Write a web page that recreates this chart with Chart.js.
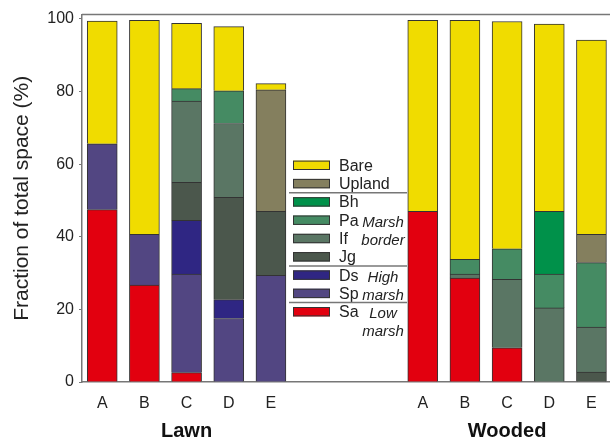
<!DOCTYPE html>
<html>
<head>
<meta charset="utf-8">
<script src="https://cdn.jsdelivr.net/npm/chart.js@4.4.1/dist/chart.umd.min.js"></script>
<style>
html,body{margin:0;padding:0;background:#fff;}
</style>
</head>
<body>
<canvas id="myChart" width="610" height="443"></canvas>
<script>
var groups = ['Lawn', 'Wooded'];
var sites = ['A', 'B', 'C', 'D', 'E'];
var yTicks = [0, 20, 40, 60, 80, 100];

// % of total space, Lawn A-E then Wooded A-E
var Sa     = [47.5, 26.7, 2.6, null, null, 47, 28.6, 9.4, null, null];
var Sp     = [18.1, 14, 27.1, 17.5, 29.4, null, null, null, null, null];
var Ds     = [null, null, 14.8, 5.2, null, null, null, null, null, null];
var Jg     = [null, null, 10.5, 28.2, 17.6, null, null, null, null, 2.7];
var If     = [null, null, 22.4, 20.3, null, null, 1.1, 18.9, 20.4, 12.4];
var Pa     = [null, null, 3.4, 9, null, null, 4.1, 8.4, 9.3, 17.8];
var Bh     = [null, null, null, null, null, null, null, null, 17.3, null];
var Upland = [null, null, null, null, 33.5, null, null, null, null, 7.8];
var Bare   = [33.8, 58.9, 18, 17.7, 1.7, 52.6, 65.8, 62.6, 51.6, 53.5];

var legendNotes = [
	{row: 3, text: ['Marsh', 'border']},
	{row: 6, text: ['High', 'marsh']},
	{row: 8, text: ['Low', 'marsh']}
];

var groupGap = 7.6;
function pos(g, i){ return g * groupGap + i; }

var series = [
	{label: 'Sa', data: Sa, color: '#e2000f'},
	{label: 'Sp', data: Sp, color: '#524682'},
	{label: 'Ds', data: Ds, color: '#2f2683'},
	{label: 'Jg', data: Jg, color: '#4b574c'},
	{label: 'If', data: If, color: '#5a7664'},
	{label: 'Pa', data: Pa, color: '#458b63'},
	{label: 'Bh', data: Bh, color: '#00914a'},
	{label: 'Upland', data: Upland, color: '#847f5e'},
	{label: 'Bare', data: Bare, color: '#f0dc00'}
];

var tickPos = [], tickLabels = [];
groups.forEach(function(g, gi){
	sites.forEach(function(s, si){
		tickPos.push(pos(gi, si));
		tickLabels.push(s);
	});
});

var datasets = series.map(function(s){
	return {
		label: s.label,
		data: s.data.map(function(v, k){ return {x: tickPos[k], y: v}; }),
		backgroundColor: s.color,
		borderColor: '#333',
		borderWidth: 1,
		barThickness: 30
	};
});

var FONT = '"Liberation Sans", Arial, sans-serif';

var extras = {
	id: 'extras',
	afterDraw: function(chart){
		var ctx = chart.ctx, a = chart.chartArea, xs = chart.scales.x;
		ctx.save();
		// top frame line
		ctx.strokeStyle = '#777';
		ctx.lineWidth = 1.5;
		ctx.beginPath();
		ctx.moveTo(a.left, a.top);
		ctx.lineTo(a.right, a.top);
		ctx.stroke();

		// group names
		ctx.fillStyle = '#111';
		ctx.font = 'bold 20px ' + FONT;
		ctx.textAlign = 'center';
		ctx.textBaseline = 'middle';
		groups.forEach(function(g, gi){
			ctx.fillText(g, xs.getPixelForValue(pos(gi, 2)), 431);
		});

		// legend, top row = top of stack
		var rows = chart.data.datasets.slice().reverse();
		var top = 165.3, step = 18.3, left = 293;
		function rowY(r){ return top + r * step; }
		ctx.textAlign = 'left';
		ctx.font = '16px ' + FONT;
		rows.forEach(function(d, r){
			var y = rowY(r);
			ctx.fillStyle = d.backgroundColor;
			ctx.fillRect(left, y - 4.7, 37, 9.4);
			ctx.strokeStyle = '#333';
			ctx.lineWidth = 1;
			ctx.strokeRect(left + 0.5, y - 4.2, 36, 8.4);
			ctx.fillStyle = '#222';
			ctx.fillText(d.label, 339, y + 1);
		});
		// separators between habitat groups
		ctx.strokeStyle = '#777';
		ctx.lineWidth = 1.5;
		[1, 5, 7].forEach(function(r){
			var y = rowY(r) + step / 2;
			ctx.beginPath();
			ctx.moveTo(289, y);
			ctx.lineTo(407, y);
			ctx.stroke();
		});
		ctx.font = 'italic 15px ' + FONT;
		ctx.textAlign = 'center';
		ctx.fillStyle = '#222';
		legendNotes.forEach(function(n){
			n.text.forEach(function(t, i){
				ctx.fillText(t, 383, rowY(n.row) + 2.5 + i * 18);
			});
		});
		ctx.restore();
	}
};

var ctx = document.getElementById("myChart").getContext("2d");
var myChart = new Chart(ctx, {
	type: 'bar',
	data: {datasets: datasets},
	options: {
		responsive: false,
		animation: false,
		layout: {padding: {top: 12, right: 0, bottom: 0, left: 0}},
		plugins: {legend: {display: false}, tooltip: {enabled: false}},
		scales: {
			x: {
				type: 'linear',
				stacked: true,
				offset: false,
				min: -0.48,
				max: 12.04,
				grid: {display: false, drawTicks: false},
				border: {display: true, color: '#777', width: 1.5},
				afterBuildTicks: function(scale){
					scale.ticks = tickPos.map(function(v){ return {value: v}; });
				},
				afterFit: function(scale){ scale.height = 61; },
				ticks: {
					autoSkip: false,
					maxRotation: 0,
					padding: 12,
					color: '#222',
					font: {family: FONT, size: 16},
					callback: function(v, i){ return tickLabels[i]; }
				}
			},
			y: {
				stacked: true,
				min: 0,
				max: 101.2,
				grid: {display: true, drawOnChartArea: false, tickLength: 3, color: '#777'},
				border: {display: true, color: '#777', width: 1.5},
				afterBuildTicks: function(scale){
					scale.ticks = yTicks.map(function(v){ return {value: v}; });
				},
				afterFit: function(scale){ scale.width = 82; },
				ticks: {
					padding: 5,
					color: '#222',
					font: {family: FONT, size: 16}
				},
				title: {
					display: true,
					text: 'Fraction of total space (%)',
					color: '#222',
					font: {family: FONT, size: 21},
					padding: {top: 10, bottom: 0}
				}
			}
		}
	},
	plugins: [extras]
});
</script>
</body>
</html>
